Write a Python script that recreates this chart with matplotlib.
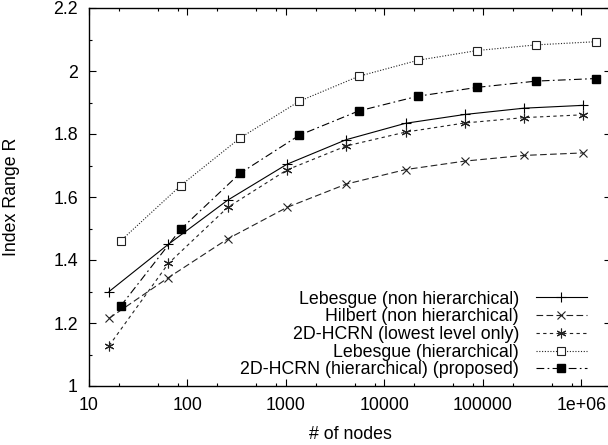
import numpy as np
import matplotlib
matplotlib.use("Agg")
import matplotlib.pyplot as plt
from matplotlib.ticker import FixedLocator, FixedFormatter

plt.rcParams['font.family'] = ['Liberation Sans', 'DejaVu Sans']
plt.rcParams['font.size'] = 12.8

# number of nodes (flat curves: 4^k, hierarchical curves: sum of 4^k)
nodes_flat = [16, 64, 256, 1024, 4096, 16384, 65536, 262144, 1048576]
nodes_hier = [21, 85, 341, 1365, 5461, 21845, 87381, 349525, 1398101]

lebesgue_flat = [1.300, 1.450, 1.590, 1.704, 1.782, 1.834, 1.862, 1.882, 1.891]
hilbert_flat = [1.215, 1.344, 1.467, 1.567, 1.641, 1.687, 1.714, 1.732, 1.740]
hcrn_lowest = [1.128, 1.389, 1.567, 1.686, 1.762, 1.806, 1.835, 1.852, 1.861]
lebesgue_hier = [1.461, 1.636, 1.787, 1.904, 1.983, 2.034, 2.065, 2.083, 2.093]
hcrn_hier = [1.254, 1.497, 1.675, 1.796, 1.873, 1.920, 1.948, 1.968, 1.976]

labels = ['Lebesgue (non hierarchical)', 'Hilbert (non hierarchical)',
          '2D-HCRN (lowest level only)', 'Lebesgue (hierarchical)',
          '2D-HCRN (hierarchical) (proposed)']

xticks = [10, 100, 1000, 10000, 100000, 1000000]
xticklabels = ['10', '100', '1000', '10000', '100000', '1e+06']
x_minor_subs = [2, 5, 8]
yticks = [1.0, 1.2, 1.4, 1.6, 1.8, 2.0, 2.2]
yticklabels = ['1', '1.2', '1.4', '1.6', '1.8', '2', '2.2']

fig = plt.figure(figsize=(6.08, 4.45), dpi=100)
# axes right border sits just past the image edge, as in the reference
ax = fig.add_axes([89 / 608, 59 / 445, 522 / 608, 378 / 445])

lw = 0.8
ax.plot(nodes_flat, lebesgue_flat, color='black', lw=lw, ls='-',
        marker='+', ms=7, mew=0.8, label=labels[0])
ax.plot(nodes_flat, hilbert_flat, color='#222222', lw=lw, ls=(0, (6, 3)),
        marker='x', ms=6, mew=0.8, label=labels[1])
ax.plot(nodes_flat, hcrn_lowest, color='#222222', lw=lw, ls=(0, (3, 3)),
        marker=(6, 2, 0), ms=7, mew=0.8, label=labels[2])
ax.plot(nodes_hier, lebesgue_hier, color='#222222', lw=lw, ls=(0, (1, 1.5)),
        marker='s', ms=6, mfc='white', mec='#222222', mew=0.8, label=labels[3])
ax.plot(nodes_hier, hcrn_hier, color='black', lw=lw, ls=(0, (7, 3, 1.5, 3)),
        marker='s', ms=6, mfc='black', mec='black', label=labels[4])

ax.set_xscale('log')
ax.set_xlim(10, 2e6)
ax.set_ylim(1.0, 2.2)

ax.xaxis.set_major_locator(FixedLocator(xticks))
ax.xaxis.set_major_formatter(FixedFormatter(xticklabels))
minor_x = [s * 10 ** k for k in range(1, 7) for s in x_minor_subs]
ax.xaxis.set_minor_locator(FixedLocator(minor_x))
ax.xaxis.set_minor_formatter(FixedFormatter([''] * len(minor_x)))
ax.yaxis.set_major_locator(FixedLocator(yticks))
ax.yaxis.set_major_formatter(FixedFormatter(yticklabels))
ax.yaxis.set_minor_locator(FixedLocator(np.arange(1.1, 2.2, 0.2)))

ax.tick_params(which='both', direction='in', top=True, right=True, width=0.8)
ax.tick_params(which='major', length=5, pad=8)
ax.tick_params(which='minor', length=2.5)
for s in ax.spines.values():
    s.set_linewidth(1.0)

ax.set_xlabel('# of nodes')
ax.set_ylabel('Index Range R')
ax.xaxis.set_label_coords(0.5, -0.105)
ax.yaxis.set_label_coords(-0.132, 0.5)

leg = ax.legend(loc='lower right', bbox_to_anchor=(0.954, 0.02),
                markerfirst=False, frameon=False, handlelength=2.87,
                handletextpad=0.95, labelspacing=0.04, borderaxespad=0,
                borderpad=0)

fig.savefig('out.png', dpi=100)
